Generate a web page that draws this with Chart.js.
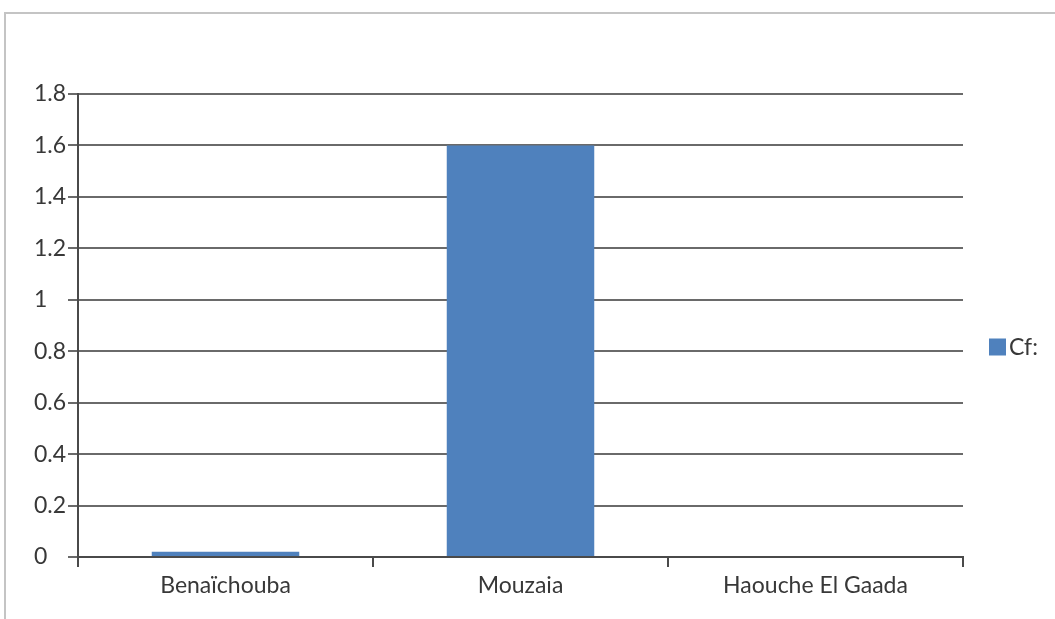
<!DOCTYPE html>
<html>
<head>
<meta charset="utf-8">
<script src="https://cdn.jsdelivr.net/npm/chart.js@4"></script>
<style>
  html, body { margin: 0; padding: 0; background: #ffffff; }
  #wrap { position: relative; width: 1055px; height: 619px; overflow: hidden; }
  #frame { position: absolute; left: 4px; top: 12px; width: 1070px; height: 640px;
           border-top: 2px solid #c4c4c4; border-left: 2px solid #c4c4c4; }
  canvas { position: absolute; left: 0; top: 0; }
</style>
</head>
<body>
<div id="wrap">
  <div id="frame"></div>
  <canvas id="c" width="1055" height="619"></canvas>
</div>
<script>
// Sites and their Cf values
const categories = ['Benaïchouba', 'Mouzaia', 'Haouche El Gaada'];
const cfValues = [0.02, 1.6, 0];
const seriesLabel = 'Cf:';
const yTickLabels = ['0', '0.2', '0.4', '0.6', '0.8', '1', '1.2', '1.4', '1.6', '1.8'];

const FONT = { family: 'Lato, "Open Sans", sans-serif', size: 23 };
const TEXT = '#383838';
const BAR = '#4f81bd';

// Legend drawn to the right of the plot
const sideLegend = {
  id: 'sideLegend',
  afterDraw(chart) {
    const ctx = chart.ctx;
    const ds = chart.data.datasets[0];
    const area = chart.chartArea;
    const x = area.right + 26;
    const y = (area.top + area.bottom) / 2 + 22;
    ctx.save();
    ctx.fillStyle = ds.backgroundColor;
    ctx.fillRect(x, y - 9, 17, 17);
    ctx.fillStyle = TEXT;
    ctx.font = `${FONT.size}px ${FONT.family}`;
    ctx.textBaseline = 'middle';
    ctx.textAlign = 'left';
    ctx.fillText(ds.label, x + 20, y);
    ctx.restore();
  }
};

new Chart(document.getElementById('c'), {
  type: 'bar',
  data: {
    labels: categories,
    datasets: [{
      label: seriesLabel,
      data: cfValues,
      backgroundColor: BAR,
      borderWidth: 0,
      categoryPercentage: 0.5,
      barPercentage: 1.0
    }]
  },
  options: {
    responsive: false,
    animation: false,
    devicePixelRatio: 1,
    layout: { padding: { top: 94, right: 92, left: 34, bottom: 0 } },
    plugins: { legend: { display: false }, tooltip: { enabled: false } },
    scales: {
      x: {
        grid: { drawOnChartArea: false, offset: true, drawTicks: true, tickLength: 10, color: '#4a4a4a', lineWidth: 2 },
        border: { color: '#4a4a4a', width: 2 },
        ticks: { font: FONT, color: TEXT, padding: 5 },
        afterFit(s) { s.height = 62; }
      },
      y: {
        min: 0,
        max: 1.8,
        afterBuildTicks(s) { s.ticks = yTickLabels.map(t => ({ value: parseFloat(t) })); },
        ticks: {
          font: FONT, color: TEXT, crossAlign: 'far',
          callback: (v) => yTickLabels.find(t => parseFloat(t) === v)
        },
        grid: { color: '#6a6a6a', lineWidth: 2, tickLength: 10, drawTicks: true },
        border: { color: '#4a4a4a', width: 2 },
        afterFit(s) { s.width = 44; }
      }
    }
  },
  plugins: [sideLegend]
});
</script>
</body>
</html>
